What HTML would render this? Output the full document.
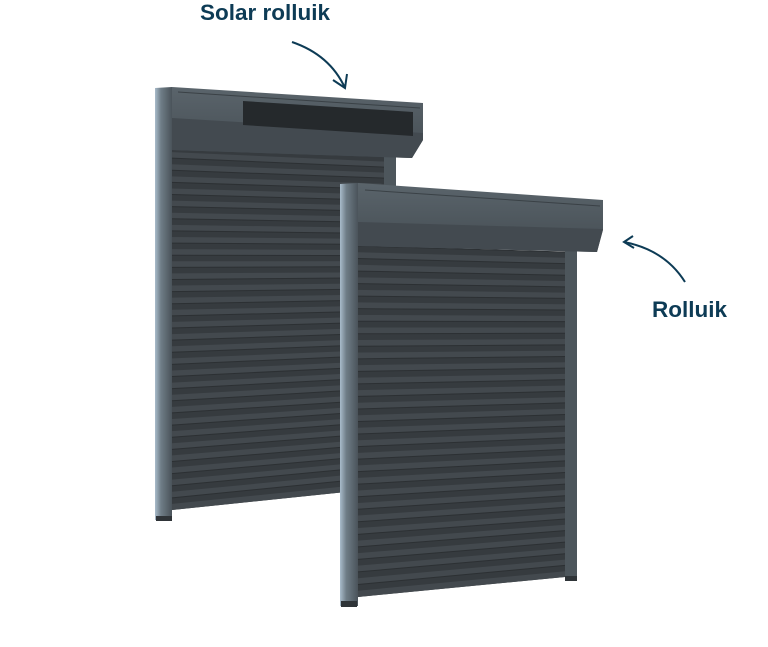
<!DOCTYPE html>
<html><head><style>
html,body{margin:0;padding:0;background:#fff;width:768px;height:647px;overflow:hidden}
svg{position:absolute;left:0;top:0}
.t{font-family:"Liberation Sans",sans-serif;font-weight:bold;font-size:22.5px;fill:#0d3b55}
</style></head><body>
<svg id="s" width="768" height="647" viewBox="0 0 768 647">
<defs>
<linearGradient id="box" x1="0" y1="0" x2="0" y2="1">
<stop offset="0" stop-color="#5a646b"/><stop offset="1" stop-color="#454d53"/></linearGradient>
<linearGradient id="side" x1="0" y1="0" x2="1" y2="0">
<stop offset="0" stop-color="#a9bccb"/><stop offset="0.35" stop-color="#6f7d87"/><stop offset="1" stop-color="#4a535a"/></linearGradient>
</defs>
<g id="back">
<polygon points="155,150 172,152 172,520 155,520" fill="url(#side)"/>
<rect x="156" y="516" width="16" height="5" fill="#2f3438"/>
<polygon points="384,150 396,150 396,186 384,186" fill="#4d565c"/>
<g id="bslats"></g>
<polygon points="155,88 172,87 172,158 155,156" fill="url(#side)"/>
<polygon points="172,87 423,103 423,140 412,158 172,150" fill="url(#box)"/>
<polygon points="172,118 423,133 423,140 412,158 172,150" fill="#434a50"/>
<line x1="178" y1="92" x2="420" y2="108" stroke="#3a4146" stroke-width="1"/>
<polygon points="243,101 413,112 413,136 243,125" fill="#25292c"/>
</g>
<g id="front">
<polygon points="340,240 358,242 358,606 340,606" fill="url(#side)"/>
<rect x="341" y="601" width="16" height="6" fill="#2f3438"/>
<polygon points="565,250 577,250 577,580 565,580" fill="#4d565c"/>
<rect x="565" y="576" width="12" height="5" fill="#2f3438"/>
<g id="fslats"></g>
<polygon points="340,184 358,183 358,246 340,245" fill="url(#side)"/>
<polygon points="358,183 603,200 603,230 597,252 358,246" fill="url(#box)"/>
<polygon points="358,222 603,229 597,252 358,246" fill="#434a50"/>
<line x1="365" y1="190" x2="600" y2="206" stroke="#3a4146" stroke-width="1"/>
</g>
<text class="t" x="200" y="20">Solar rolluik</text>
<text class="t" x="652" y="317">Rolluik</text>
<path d="M292,42 Q330,55 345,88" fill="none" stroke="#0d3b55" stroke-width="2"/>
<path d="M333,80 L345,88 L347,74" fill="none" stroke="#0d3b55" stroke-width="2"/>
<path d="M685,282 Q665,250 624,242" fill="none" stroke="#0d3b55" stroke-width="2"/>
<path d="M633,236 L624,242 L634,248" fill="none" stroke="#0d3b55" stroke-width="2"/>
</svg>
<script>
function slats(id,x1,x2,tl,tr,bl,br,n){
 var g=document.getElementById(id),h='';
 h+='<polygon points="'+x1+','+tl+' '+x2+','+tr+' '+x2+','+br+' '+x1+','+bl+'" fill="#363b3f"/>';
 for(var i=0;i<n;i++){
  var a=i/n,b=(i+0.5)/n,c=(i+1)/n;
  var l0=tl+(bl-tl)*a,r0=tr+(br-tr)*a,l1=tl+(bl-tl)*b,r1=tr+(br-tr)*b,l2=tl+(bl-tl)*c,r2=tr+(br-tr)*c;
  h+='<polygon points="'+x1+','+l1+' '+x2+','+r1+' '+x2+','+r2+' '+x1+','+l2+'" fill="#43494e"/>';
  h+='<line x1="'+x1+'" y1="'+l0+'" x2="'+x2+'" y2="'+r0+'" stroke="#2c3033" stroke-width="1"/>';
 }
 g.innerHTML=h;
}
slats('bslats',172,384,146,156,510,488,30);
slats('fslats',358,565,246,252,597,577,28);
</script>
</body></html>
